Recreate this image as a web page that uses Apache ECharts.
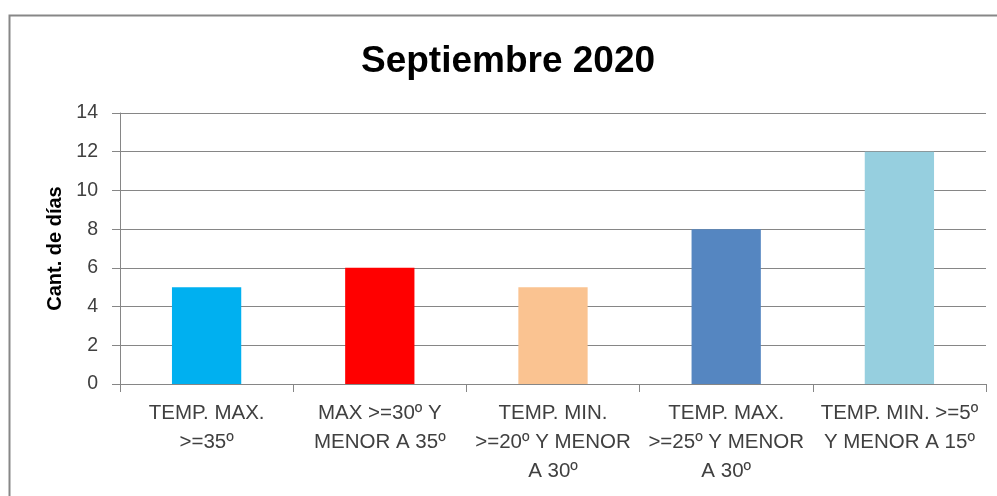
<!DOCTYPE html>
<html><head><meta charset="utf-8">
<script src="https://cdn.jsdelivr.net/npm/echarts@6/dist/echarts.min.js"></script>
<style>html,body{margin:0;padding:0;background:#fff}#c{width:997px;height:496px}</style>
</head><body><div id="c"></div>
<script>
const categories = ['TEMP. MAX. >=35º', 'MAX >=30º Y MENOR A 35º', 'TEMP. MIN. >=20º Y MENOR A 30º', 'TEMP. MAX. >=25º Y MENOR A 30º', 'TEMP. MIN. >=5º Y MENOR A 15º'];
const tickLabels = ['TEMP. MAX.\n>=35º', 'MAX >=30º Y\nMENOR A 35º', 'TEMP. MIN.\n>=20º Y MENOR\nA 30º', 'TEMP. MAX.\n>=25º Y MENOR\nA 30º', 'TEMP. MIN. >=5º\nY MENOR A 15º'];
const values = [5, 6, 5, 8, 12];
const barColors = ['#00B0F0', '#FF0000', '#FAC391', '#5586C1', '#96CFDF'];

const chart = echarts.init(document.getElementById('c'), null, {renderer: 'canvas'});
const grey = '#868686';
chart.setOption({
  animation: false,
  backgroundColor: '#fff',
  graphic: [{
    type: 'rect', left: 7, top: 13, shape: {x: 0, y: 0, width: 1010, height: 510},
    style: {fill: 'none', stroke: '#878787', lineWidth: 2}, silent: true, z: -1
  }],
  title: {
    text: 'Septiembre 2020', left: 356, top: 38,
    textStyle: {fontFamily: 'Liberation Sans', fontWeight: 'bold', fontSize: 37, color: '#000'}
  },
  grid: {left: 120, right: 11, top: 113, bottom: 112, containLabel: false},
  xAxis: {
    type: 'category', data: categories,
    axisLine: {lineStyle: {color: grey, width: 1}},
    axisTick: {show: true, length: 8, lineStyle: {color: grey}},
    axisLabel: {
      interval: 0, margin: 15, color: '#404040', fontFamily: 'Liberation Sans', fontSize: 20.5, lineHeight: 29,
      formatter: (v, i) => tickLabels[i]
    }
  },
  yAxis: {
    type: 'value', min: 0, max: 14, interval: 2,
    name: 'Cant. de días', nameLocation: 'middle', nameGap: 54, nameRotate: 90,
    nameTextStyle: {fontFamily: 'Liberation Sans', fontWeight: 'bold', fontSize: 20, color: '#000'},
    axisLine: {show: true, lineStyle: {color: grey, width: 1}},
    axisTick: {show: true, length: 8, lineStyle: {color: grey}},
    splitLine: {show: true, lineStyle: {color: grey, width: 1}},
    axisLabel: {margin: 22, color: '#404040', fontFamily: 'Liberation Sans', fontSize: 19.5}
  },
  series: [{
    type: 'bar', barWidth: '40%',
    data: values.map((v, i) => ({value: v, itemStyle: {color: barColors[i]}}))
  }]
});
</script></body></html>
